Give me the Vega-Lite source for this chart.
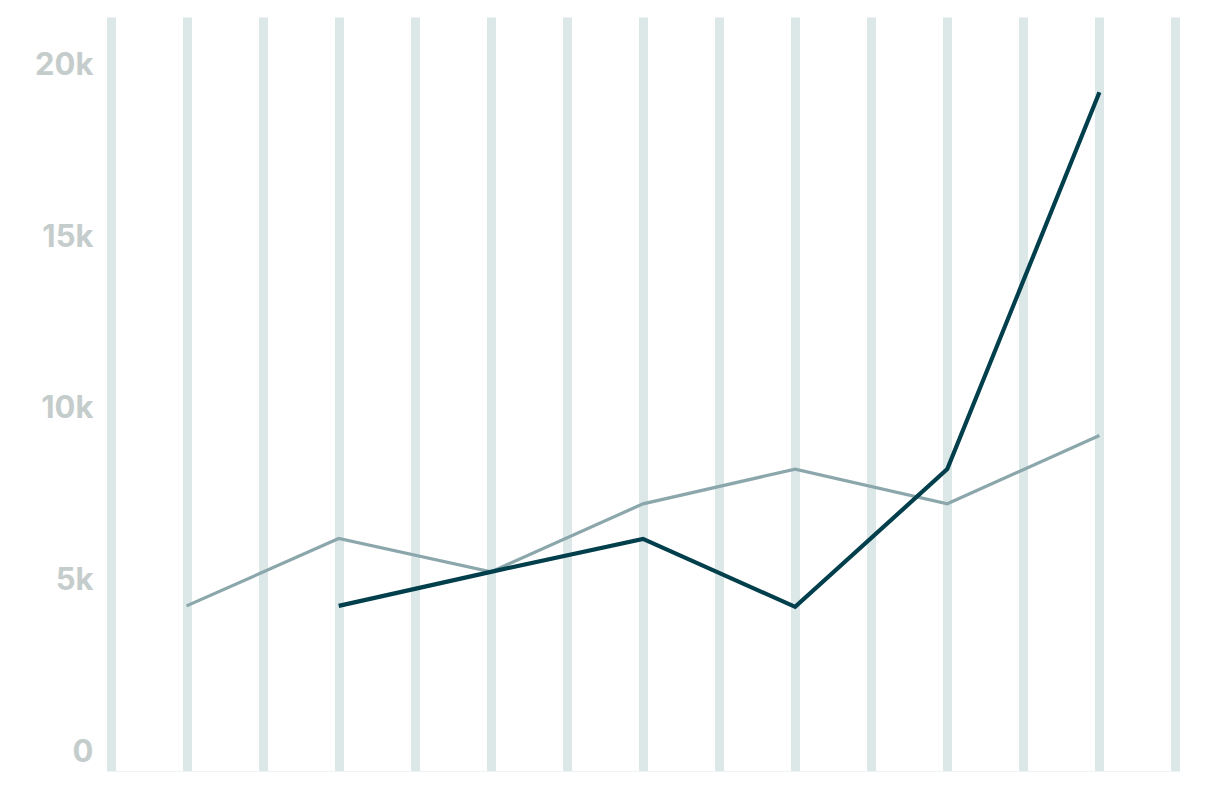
{
  "$schema": "https://vega.github.io/schema/vega-lite/v6.json",
  "width": 1074,
  "height": 754,
  "autosize": {"type": "none"},
  "padding": {"left": 106, "top": 17, "right": 44, "bottom": 19},
  "background": "white",
  "config": {"view": {"stroke": null}},
  "data": {
    "values": [
      {"period": 1, "series": "light", "value": 4240},
      {"period": 3, "series": "light", "value": 6200},
      {"period": 5, "series": "light", "value": 5230},
      {"period": 7, "series": "light", "value": 7210},
      {"period": 9, "series": "light", "value": 8220},
      {"period": 11, "series": "light", "value": 7210},
      {"period": 13, "series": "light", "value": 9200},
      {"period": 3, "series": "dark", "value": 4240},
      {"period": 5, "series": "dark", "value": 5230},
      {"period": 7, "series": "dark", "value": 6190},
      {"period": 9, "series": "dark", "value": 4210},
      {"period": 11, "series": "dark", "value": 8220},
      {"period": 13, "series": "dark", "value": 19190}
    ]
  },
  "mark": {"type": "line", "strokeCap": "butt", "strokeJoin": "miter"},
  "encoding": {
    "x": {
      "field": "period",
      "type": "quantitative",
      "scale": {"domain": [-0.0592, 14.0592], "nice": false, "zero": false},
      "axis": {
        "title": null,
        "values": [0, 1, 2, 3, 4, 5, 6, 7, 8, 9, 10, 11, 12, 13, 14],
        "labels": false,
        "ticks": false,
        "grid": true,
        "gridColor": "#dce8e8",
        "gridWidth": 9,
        "domain": true,
        "domainColor": "#eef3f3",
        "domainWidth": 1
      }
    },
    "y": {
      "field": "value",
      "type": "quantitative",
      "scale": {"domain": [-568, 21383], "nice": false, "zero": false},
      "axis": {
        "title": null,
        "values": [0, 5000, 10000, 15000, 20000],
        "labelExpr": "datum.value == 0 ? '0' : (datum.value / 1000) + 'k'",
        "labelFont": "Inter",
        "labelFontWeight": "bold",
        "labelFontSize": 31,
        "labelColor": "#c5cdcc",
        "labelPadding": 13,
        "labelOffset": 1,
        "ticks": false,
        "domain": false,
        "grid": false
      }
    },
    "color": {
      "field": "series",
      "type": "nominal",
      "scale": {"domain": ["light", "dark"], "range": ["#8ba7ab", "#003f4b"]},
      "legend": null
    },
    "strokeWidth": {
      "field": "series",
      "type": "nominal",
      "scale": {"domain": ["light", "dark"], "range": [3.2, 4.2]},
      "legend": null
    },
    "order": {"field": "period", "type": "quantitative"}
  }
}
